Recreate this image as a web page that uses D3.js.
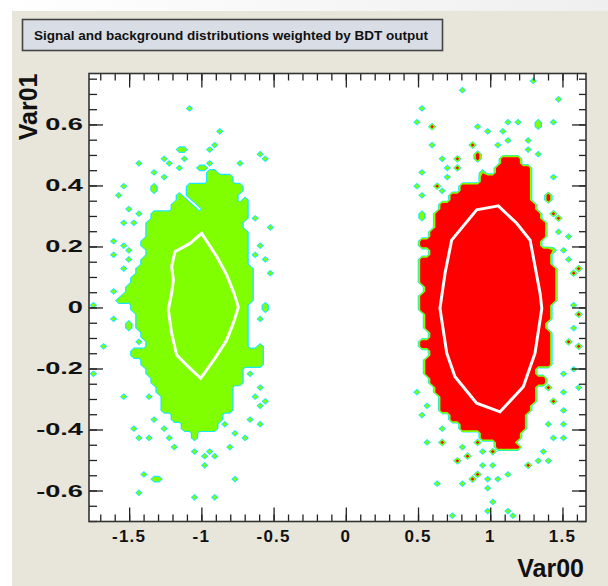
<!DOCTYPE html>
<html lang="en">
<head>
<meta charset="UTF-8">
<script src="https://cdn.jsdelivr.net/npm/d3@7"></script>
<title>BDT weighted distributions</title>
<style>
    body { margin: 0; background: #ffffff; }
    svg text { font-family: "Liberation Sans", Arial, sans-serif; font-weight: bold; fill: #111; }
</style>
</head>
<body>
<div id="fig"></div>
<script>
    // axis ranges and ticks
    const xDomain = [-1.778, 1.663];
    const yDomain = [-0.7016, 0.767];
    const xMajor = [-1.5, -1, -0.5, 0, 0.5, 1, 1.5];
    const yMajor = [-0.6, -0.4, -0.2, 0, 0.2, 0.4, 0.6];
    const xLabels = ["-1.5", "-1", "-0.5", "0", "0.5", "1", "1.5"];
    const yLabels = ["-0.6", "-0.4", "-0.2", "0", "0.2", "0.4", "0.6"];

    // background (left) blob: per row [y, xmin, xmax]
    const bkgRows = [
        [0.42, -0.964, -0.775], [0.39, -1.102, -0.721], [0.36, -1.183, -0.756], [0.33, -1.195, -0.687],
        [0.30, -1.345, -0.675], [0.27, -1.368, -0.710], [0.24, -1.391, -0.664], [0.21, -1.414, -0.687],
        [0.18, -1.391, -0.675], [0.15, -1.425, -0.675], [0.12, -1.448, -0.652], [0.09, -1.483, -0.641],
        [0.06, -1.520, -0.641], [0.03, -1.550, -0.641], [0.00, -1.494, -0.664], [-0.03, -1.460, -0.664],
        [-0.06, -1.437, -0.675], [-0.09, -1.402, -0.687], [-0.12, -1.368, -0.664], [-0.15, -1.472, -0.583],
        [-0.18, -1.402, -0.583], [-0.21, -1.379, -0.710], [-0.24, -1.333, -0.710], [-0.27, -1.298, -0.802],
        [-0.30, -1.287, -0.779], [-0.33, -1.264, -0.802], [-0.36, -1.218, -0.871], [-0.39, -1.148, -0.894],
        [-0.42, -1.079, -1.033]
    ];
    const bkgSpecks = [
        [-1.079, 0.648], [-0.871, 0.573], [-1.148, 0.522], [-1.113, 0.514], [-0.952, 0.516], [-0.906, 0.540],
        [-0.606, 0.506], [-1.264, 0.494], [-1.113, 0.484], [-0.560, 0.484], [-1.425, 0.467], [-1.206, 0.467],
        [-1.148, 0.451], [-1.021, 0.462], [-0.987, 0.456], [-0.940, 0.478], [-0.733, 0.467], [-1.321, 0.440],
        [-0.930, 0.443], [-0.900, 0.443],
        [-1.252, 0.424], [-1.529, 0.396], [-1.344, 0.402], [-1.310, 0.380], [-1.564, 0.366], [-1.494, 0.320],
        [-1.448, 0.303], [-1.529, 0.276], [-1.460, 0.276], [-1.598, 0.221], [-1.541, 0.205], [-1.494, 0.189],
        [-1.506, 0.161], [-1.598, 0.178], [-1.541, 0.123], [-0.560, 0.156], [-0.525, 0.117], [-0.629, 0.167],
        [-0.594, 0.210], [-0.525, 0.265], [-0.617, 0.287], [-0.710, 0.352], [-1.610, 0.047], [-1.564, 0.025],
        [-1.760, 0.014], [-1.598, -0.030], [-1.494, -0.047], [-1.494, -0.074], [-1.437, -0.117], [-1.668, -0.134],
        [-1.737, -0.221], [-1.529, -0.298], [-1.379, -0.287], [-1.344, -0.369], [-1.460, -0.396], [-1.425, -0.434],
        [-1.356, -0.429], [-1.275, -0.402], [-1.206, -0.434], [-1.183, -0.451], [-1.033, -0.478], [-0.987, -0.484],
        [-0.929, -0.467], [-0.894, -0.484], [-0.975, -0.516], [-0.756, -0.418], [-0.710, -0.424], [-0.790, -0.451],
        [-0.848, -0.380], [-0.663, -0.369], [-0.594, -0.380], [-0.548, -0.314], [-0.583, -0.325], [-0.629, -0.298],
        [-0.583, -0.260], [-0.663, -0.221], [-0.594, -0.134], [-0.560, -0.014], [-0.571, 0.003], [-0.583, -0.030],
        [-1.391, -0.544], [-1.310, -0.555], [-1.287, -0.566], [-1.425, -0.604], [-1.044, -0.620], [-0.906, -0.620],
        [-0.767, -0.563]
    ];
    const bkgGaps = [[-1.13, 0.375], [-1.09, 0.36], [-1.06, 0.345], [-1.03, 0.33]];

    // signal (right) blob
    const sigRows = [
        [0.48, 1.060, 1.200], [0.45, 1.021, 1.264], [0.42, 0.929, 1.275], [0.39, 0.791, 1.287],
        [0.36, 0.722, 1.287], [0.33, 0.641, 1.299], [0.30, 0.629, 1.333], [0.27, 0.606, 1.368],
        [0.24, 0.595, 1.368], [0.21, 0.514, 1.356], [0.18, 0.583, 1.437], [0.15, 0.525, 1.437],
        [0.12, 0.525, 1.449], [0.09, 0.514, 1.472], [0.06, 0.560, 1.472], [0.03, 0.514, 1.460],
        [0.00, 0.502, 1.437], [-0.03, 0.537, 1.414], [-0.06, 0.560, 1.402], [-0.09, 0.583, 1.437],
        [-0.12, 0.525, 1.437], [-0.15, 0.583, 1.437], [-0.18, 0.560, 1.414], [-0.21, 0.560, 1.322],
        [-0.24, 0.583, 1.368], [-0.27, 0.606, 1.299], [-0.30, 0.641, 1.299], [-0.33, 0.664, 1.276],
        [-0.36, 0.722, 1.252], [-0.39, 0.791, 1.252], [-0.42, 0.929, 1.206], [-0.45, 1.045, 1.183]
    ];
    const sigSpecks = [
        [1.299, 0.748], [0.814, 0.719], [1.472, 0.675], [0.537, 0.648], [0.502, 0.615], [0.906, 0.598],
        [0.976, 0.582], [1.125, 0.604], [1.195, 0.604], [1.333, 0.615], [1.437, 0.615], [1.333, 0.587],
        [1.091, 0.573], [0.606, 0.527], [1.264, 0.544], [1.264, 0.516], [1.333, 0.500], [1.068, 0.527],
        [1.114, 0.544], [0.675, 0.484], [0.687, 0.456], [0.525, 0.440], [0.687, 0.429], [0.941, 0.440],
        [1.437, 0.424], [0.502, 0.396], [0.537, 0.363], [0.652, 0.380], [0.514, 0.303], [0.537, 0.287],
        [1.472, 0.243], [1.541, 0.234], [1.437, 0.189], [1.495, 0.183], [1.541, 0.161], [1.576, 0.014],
        [1.587, -0.068], [1.576, -0.205], [1.495, -0.221], [1.622, -0.265], [1.495, -0.281], [1.506, -0.330],
        [1.402, -0.385], [1.506, -0.385], [1.437, -0.429], [1.506, -0.429], [1.368, -0.473], [1.333, -0.500],
        [1.402, -0.500], [0.502, -0.281], [0.571, -0.325], [0.537, -0.358], [0.652, -0.396], [0.571, -0.445],
        [0.791, -0.451], [0.952, -0.478], [1.033, -0.516], [0.952, -0.516], [1.125, -0.544], [0.814, -0.582],
        [0.987, -0.563], [1.061, -0.563], [0.992, -0.590], [0.641, -0.576], [1.029, -0.633], [0.992, -0.664],
        [1.130, -0.664], [0.745, -0.688], [1.160, -0.688]
    ];
    const sigSpecksHigh = [
        [0.606, 0.587], [0.883, 0.527], [0.929, 0.500], [0.906, 0.484], [0.768, 0.484], [0.779, 0.462],
        [0.618, 0.402], [1.391, 0.374], [1.414, 0.352], [1.437, 0.309], [1.472, 0.287], [1.599, 0.128],
        [1.576, 0.117], [1.622, -0.019], [1.553, -0.117], [1.622, -0.134], [1.391, -0.260], [1.437, -0.303],
        [0.675, -0.445], [0.756, -0.500], [0.837, -0.489], [0.929, -0.445], [1.021, -0.467], [1.206, -0.456],
        [1.253, -0.516], [0.860, -0.555], [0.918, -0.544]
    ];

    // inner contour lines
    const bkgContour = [
        [-0.998, 0.243], [-0.894, 0.167], [-0.825, 0.107], [-0.774, 0.047], [-0.744, 0.001], [-0.779, -0.052],
        [-0.825, -0.107], [-0.906, -0.167], [-1.005, -0.232], [-1.102, -0.189], [-1.171, -0.156], [-1.206, -0.085],
        [-1.229, -0.008], [-1.206, 0.047], [-1.194, 0.090], [-1.206, 0.134], [-1.183, 0.183], [-1.079, 0.210]
    ];
    const sigContour = [
        [1.056, 0.333], [0.906, 0.320], [0.733, 0.221], [0.687, 0.112], [0.652, -0.003], [0.699, -0.150],
        [0.756, -0.227], [0.906, -0.314], [1.068, -0.342], [1.229, -0.260], [1.310, -0.150], [1.357, -0.003],
        [1.345, 0.047], [1.276, 0.221], [1.183, 0.276]
    ];

    const levels = [1.0, 2.0, 4.2];
    const levelColors = ["#18e8ff", "#80ff00", "#ff0000"];
    const bkgWeight = 3.8, sigWeight = 6.5;

    const W = 608, H = 586;
    const frame = { left: 89, right: 586, top: 73.5, bottom: 521.5 };

    const svg = d3.select("#fig").append("svg").attr("width", W).attr("height", H);

    // canvas background
    const grad = svg.append("defs").append("linearGradient").attr("id", "topband");
    grad.append("stop").attr("offset", "0%").attr("stop-color", "#ffffff");
    grad.append("stop").attr("offset", "100%").attr("stop-color", "#efefef");
    svg.append("rect").attr("width", W).attr("height", H).attr("fill", "#ffffff");
    svg.append("rect").attr("width", W).attr("height", 11).attr("fill", "url(#topband)");
    svg.append("rect").attr("x", 12).attr("y", 11).attr("width", W - 12).attr("height", H - 11).attr("fill", "#e8e5da");

    // title box
    svg.append("rect").attr("x", 22.5).attr("y", 19.5).attr("width", 420).attr("height", 31)
        .attr("fill", "#d9dee6").attr("stroke", "#444").attr("stroke-width", 1.6);
    svg.append("text").attr("x", 34).attr("y", 39.5).attr("font-size", 12.5)
        .attr("textLength", 394).attr("lengthAdjust", "spacingAndGlyphs")
        .text("Signal and background distributions weighted by BDT output");

    const x = d3.scaleLinear().domain(xDomain).range([frame.left, frame.right]);
    const y = d3.scaleLinear().domain(yDomain).range([frame.bottom, frame.top]);

    svg.append("clipPath").attr("id", "clip").append("rect")
        .attr("x", frame.left).attr("y", frame.top)
        .attr("width", frame.right - frame.left).attr("height", frame.bottom - frame.top);

    svg.append("rect").attr("x", frame.left).attr("y", frame.top)
        .attr("width", frame.right - frame.left).attr("height", frame.bottom - frame.top)
        .attr("fill", "#ffffff");

    // histogram grid
    const gx0 = -1.80, gdx = 0.035, nx = 100;
    const gy0 = 0.78, gdy = 0.015, ny = 100;
    const grid = new Array(nx * ny).fill(0);

    const cellIndex = (vx, vy) => {
        const i = Math.floor((vx - gx0) / gdx);
        const j = Math.floor((gy0 - vy) / gdy);
        if (i < 0 || i >= nx || j < 0 || j >= ny) return -1;
        return j * nx + i;
    };

    const fillRows = (rows, w) => {
        rows.forEach(([ry, x0, x1]) => {
            for (let j = 0; j < ny; j++) {
                const cy = gy0 - (j + 0.5) * gdy;
                if (cy < ry - 0.015 || cy >= ry + 0.015) continue;
                for (let i = 0; i < nx; i++) {
                    const cx = gx0 + (i + 0.5) * gdx;
                    if (cx >= x0 && cx <= x1) grid[j * nx + i] = Math.max(grid[j * nx + i], w);
                }
            }
        });
    };
    const fillSpecks = (pts, w) => {
        pts.forEach(([px, py]) => {
            const k = cellIndex(px, py);
            if (k >= 0) grid[k] = Math.max(grid[k], w);
        });
    };

    fillRows(bkgRows, bkgWeight);
    fillSpecks(bkgSpecks, bkgWeight);
    bkgGaps.forEach(([px, py]) => { const k = cellIndex(px, py); if (k >= 0) grid[k] = 0; });
    fillRows(sigRows, sigWeight);
    fillSpecks(sigSpecks, bkgWeight);
    fillSpecks(sigSpecksHigh, sigWeight);

    const contours = d3.contours().size([nx, ny]).thresholds(levels)(grid);
    const toScreen = d3.geoTransform({
        point: function (gx, gy) {
            this.stream.point(x(gx0 + gx * gdx), y(gy0 - gy * gdy));
        }
    });
    const path = d3.geoPath(toScreen);

    const plot = svg.append("g").attr("clip-path", "url(#clip)");
    plot.selectAll("path.level")
        .data(contours)
        .join("path")
        .attr("class", "level")
        .attr("d", path)
        .attr("fill", (d, i) => levelColors[i]);

    const line = d3.line().x(d => x(d[0])).y(d => y(d[1])).curve(d3.curveLinearClosed);
    plot.selectAll("path.contour")
        .data([bkgContour, sigContour])
        .join("path")
        .attr("class", "contour")
        .attr("d", line)
        .attr("fill", "none")
        .attr("stroke", "#ffffff")
        .attr("stroke-width", 3);

    // axes with ticks on all four sides
    const xMinor = d3.range(-17, 17).map(v => v / 10);
    const yMinor = d3.range(-14, 16).map(v => v / 20);
    const axisStyle = g => {
        g.select(".domain").remove();
        g.selectAll(".tick line").attr("stroke", "#222").attr("stroke-width", 1.3);
    };

    svg.append("g").attr("transform", `translate(0,${frame.bottom})`)
        .call(d3.axisBottom(x).tickValues(xMinor).tickSize(-7).tickFormat("")).call(axisStyle);
    svg.append("g").attr("transform", `translate(0,${frame.bottom})`)
        .call(d3.axisBottom(x).tickValues(xMajor).tickSize(-14).tickFormat("")).call(axisStyle);
    svg.append("g").attr("transform", `translate(0,${frame.top})`)
        .call(d3.axisTop(x).tickValues(xMinor).tickSize(-7).tickFormat("")).call(axisStyle);
    svg.append("g").attr("transform", `translate(0,${frame.top})`)
        .call(d3.axisTop(x).tickValues(xMajor).tickSize(-14).tickFormat("")).call(axisStyle);
    svg.append("g").attr("transform", `translate(${frame.left},0)`)
        .call(d3.axisLeft(y).tickValues(yMinor).tickSize(-8).tickFormat("")).call(axisStyle);
    svg.append("g").attr("transform", `translate(${frame.left},0)`)
        .call(d3.axisLeft(y).tickValues(yMajor).tickSize(-14).tickFormat("")).call(axisStyle);
    svg.append("g").attr("transform", `translate(${frame.right},0)`)
        .call(d3.axisRight(y).tickValues(yMinor).tickSize(-7).tickFormat("")).call(axisStyle);
    svg.append("g").attr("transform", `translate(${frame.right},0)`)
        .call(d3.axisRight(y).tickValues(yMajor).tickSize(-14).tickFormat("")).call(axisStyle);

    svg.append("rect").attr("x", frame.left).attr("y", frame.top)
        .attr("width", frame.right - frame.left).attr("height", frame.bottom - frame.top)
        .attr("fill", "none").attr("stroke", "#333").attr("stroke-width", 1.6);

    // tick labels
    svg.append("g").selectAll("text")
        .data(xMajor)
        .join("text")
        .attr("x", d => x(d))
        .attr("y", 542)
        .attr("text-anchor", "middle")
        .attr("font-size", 17)
        .attr("letter-spacing", 1.2)
        .text((d, i) => xLabels[i]);

    // the vertical-axis labels are set wider than the horizontal ones
    svg.append("g").selectAll("text")
        .data(yMajor)
        .join("text")
        .attr("x", 83)
        .attr("y", d => y(d) + 6)
        .attr("text-anchor", "end")
        .attr("font-size", 17)
        .text((d, i) => yLabels[i])
        .each(function () {
            const len = this.getComputedTextLength();
            d3.select(this).attr("textLength", len * 1.6).attr("lengthAdjust", "spacingAndGlyphs");
        });

    // axis titles
    svg.append("text").attr("x", 584).attr("y", 577).attr("text-anchor", "end")
        .attr("font-size", 25).text("Var00");
    svg.append("text").attr("transform", `translate(37,${frame.top}) rotate(-90)`)
        .attr("text-anchor", "end").attr("font-size", 25).text("Var01");
</script>
</body>
</html>
